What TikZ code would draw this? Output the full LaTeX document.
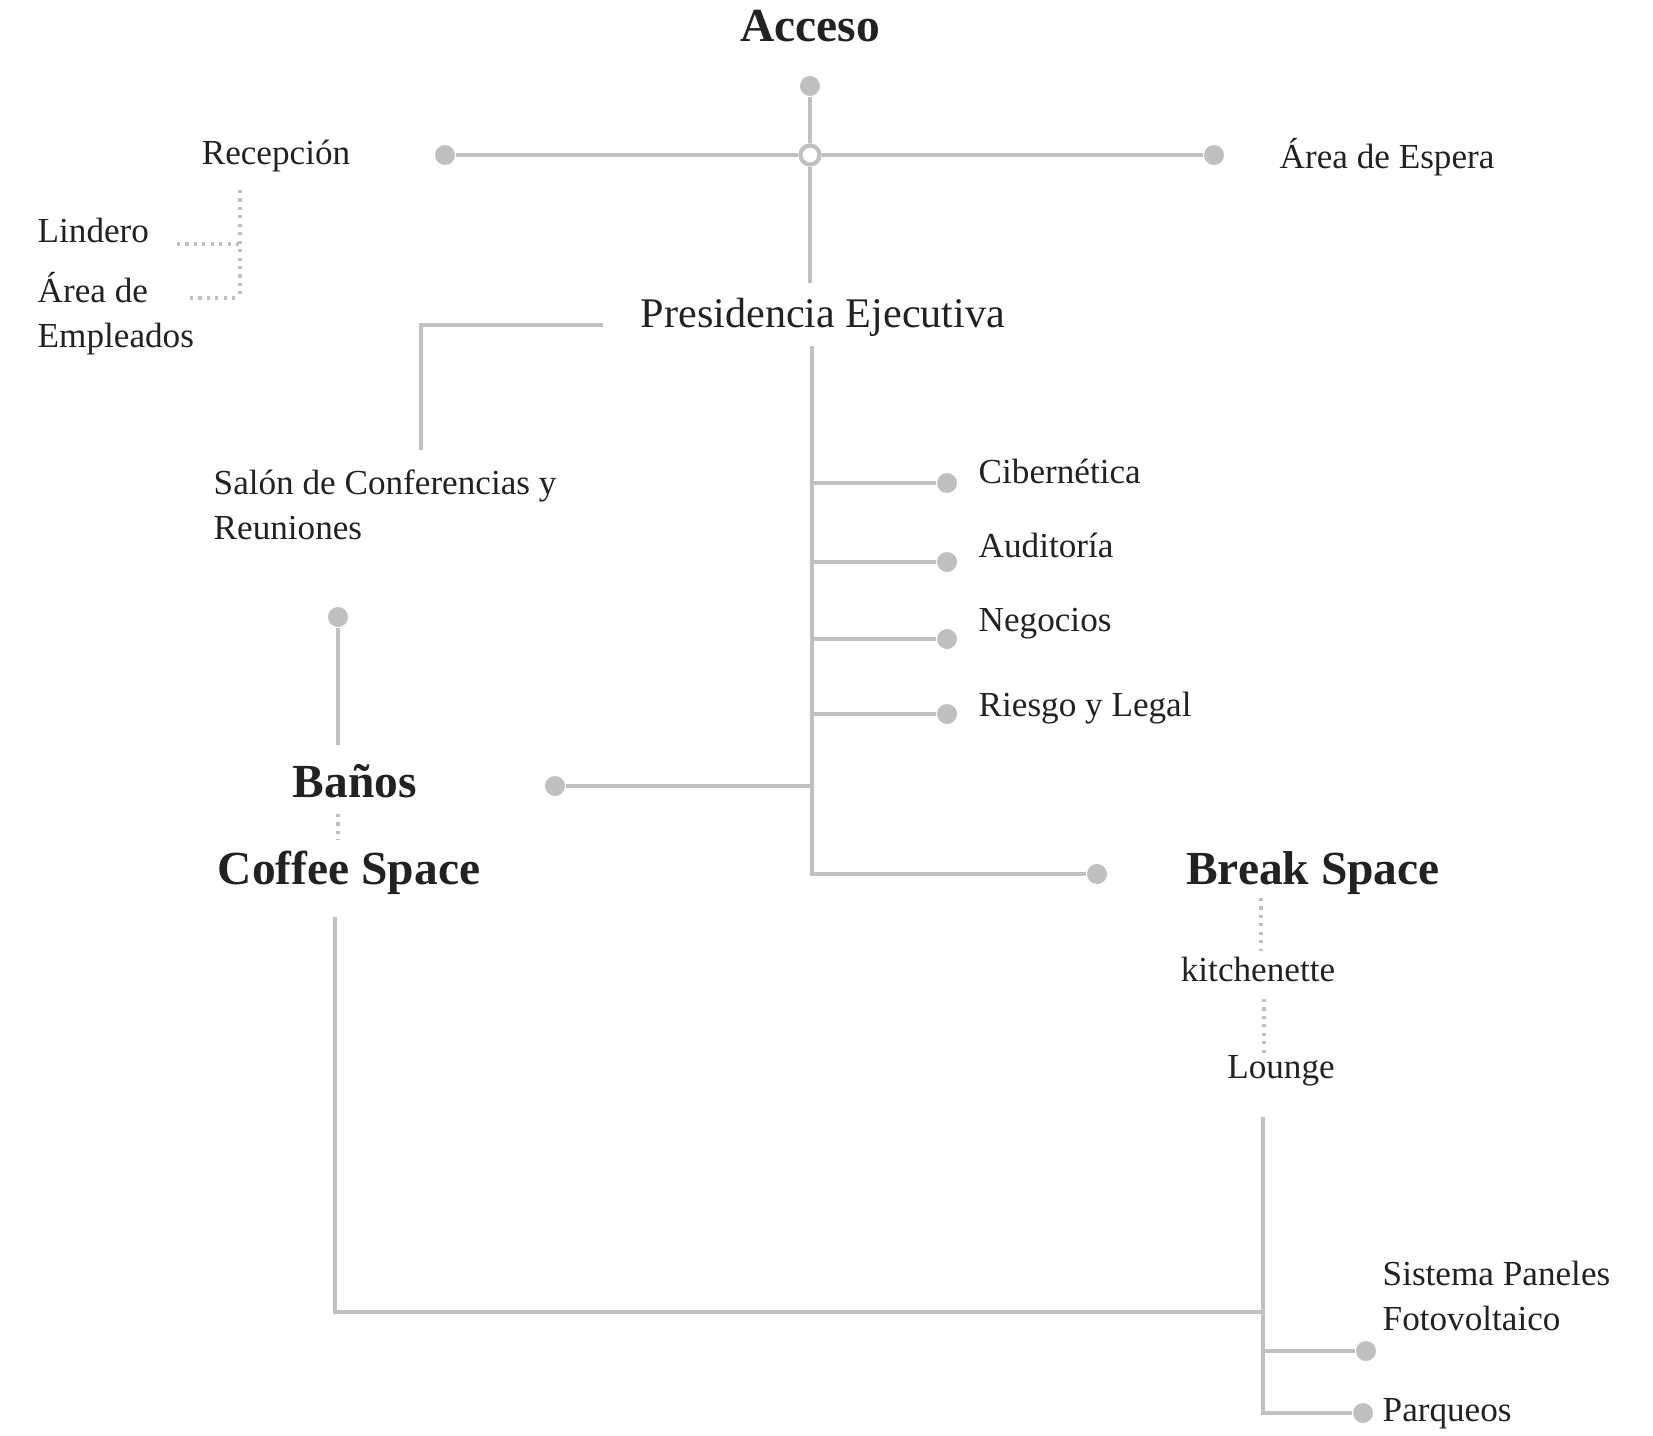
\documentclass[tikz,border=0pt]{standalone}
\usepackage{fontspec}
\setmainfont{Liberation Serif}
\definecolor{linegray}{RGB}{192,192,192}
\definecolor{inkgray}{RGB}{34,34,34}
\tikzset{
    conn/.style={draw=linegray, line width=1.2pt},
    dotline/.style={draw=linegray, line width=1.1pt, dash pattern=on 0.9pt off 1.5pt},
    pin/.style={circle, fill=linegray, inner sep=0pt, minimum size=0.2cm},
    hub/.style={circle, draw=linegray, fill=white, line width=1.2pt, inner sep=0pt, minimum size=0.19cm},
    lbl/.style={font=\fontsize{10}{12.8}\selectfont, text=inkgray, inner sep=0pt, align=left},
    head/.style={font=\fontsize{13.5}{16}\selectfont\bfseries, text=inkgray, inner sep=0pt},
}
\begin{document}
\begin{tikzpicture}[x=0.01cm, y=-0.01cm]
    \useasboundingbox (0,0) rectangle (1653,1436);
    % entrada
    \node[head] (acceso) at (810,26) {Acceso};
    \node[pin] (accpin) at (810,86) {};
    \node[hub] (hubc) at (810,155) {};
    \node[pin] (recpin) at (445,155) {};
    \node[pin] (esppin) at (1214,155) {};
    \node[lbl] (recepcion) at (276,156) {Recepción};
    \node[lbl, anchor=west] (espera) at (1279,157) {Área de Espera};
    \draw[conn] (accpin) -- (hubc);
    \draw[conn] (recpin) -- (hubc) -- (esppin);
    % lindero y empleados
    \node[lbl, anchor=west] (lindero) at (37,230) {Lindero};
    \node[lbl, anchor=west] (empleados) at (37,314) {Área de\\Empleados};
    \coordinate (recS) at (240,190);
    \coordinate (empC) at (240,298);
    \draw[dotline] (recS) -- (empC);
    \draw[dotline] (177,244) -- (recS |- 0,244);
    \draw[dotline] (190,298) -- (empC);
    % presidencia
    \node[lbl, font=\fontsize{12}{14}\selectfont] (pres) at (823,317) {Presidencia Ejecutiva};
    \coordinate (presN) at (810,283);
    \coordinate (presS) at (812,346);
    \coordinate (presW) at (603,325);
    \coordinate (salN) at (421,450);
    \draw[conn] (hubc) -- (presN);
    \draw[conn] (presW) -| (salN);
    \node[lbl, anchor=west] (salon) at (213,505) {Salón de Conferencias y\\Reuniones};
    % departamentos
    \foreach \n/\t/\y/\ty in {cib/Cibernética/483/471, aud/Auditoría/562/545,
                              neg/Negocios/639/624, rie/Riesgo y Legal/714/708}
    {
        \node[pin] (\n) at (947,\y) {};
        \node[lbl, anchor=west] (\n txt) at (978,\ty) {\t};
        \draw[conn] (presS |- \n) -- (\n);
    };
    \node[pin] (banpin) at (555,786) {};
    \node[pin] (brkpin) at (1097,874) {};
    \draw[conn] (presS) |- (brkpin);
    \draw[conn] (banpin) -- (presS |- banpin);
    % banos y coffee
    \node[pin] (salpin) at (338,617) {};
    \node[head] (banos) at (355,781) {Baños};
    \node[head] (coffee) at (349,873) {Coffee Space};
    \coordinate (banN) at (338,745);
    \draw[conn] (salpin) -- (banN);
    \draw[dotline] (338,814) -- (338,840);
    % break space
    \node[head] (brk) at (1313,873) {Break Space};
    \node[lbl] (kitchen) at (1258,969) {kitchenette};
    \node[lbl] (lounge) at (1281,1071) {Lounge};
    \draw[dotline] (1261,898) -- (1261,951);
    \draw[dotline] (1264,999) -- (1264,1054);
    % servicios
    \coordinate (coffS) at (335,917);
    \coordinate (lngS) at (1263,1117);
    \coordinate (jn) at (1263,1312);
    \node[pin] (solpin) at (1366,1351) {};
    \node[pin] (parpin) at (1363,1413) {};
    \node[lbl, anchor=west] (solar) at (1382,1296) {Sistema Paneles\\Fotovoltaico};
    \node[lbl, anchor=west] (parqueos) at (1382,1414) {Parqueos};
    \draw[conn] (coffS) |- (jn);
    \draw[conn] (lngS) |- (parpin);
    \draw[conn] (lngS |- solpin) -- (solpin);
\end{tikzpicture}
\end{document}
